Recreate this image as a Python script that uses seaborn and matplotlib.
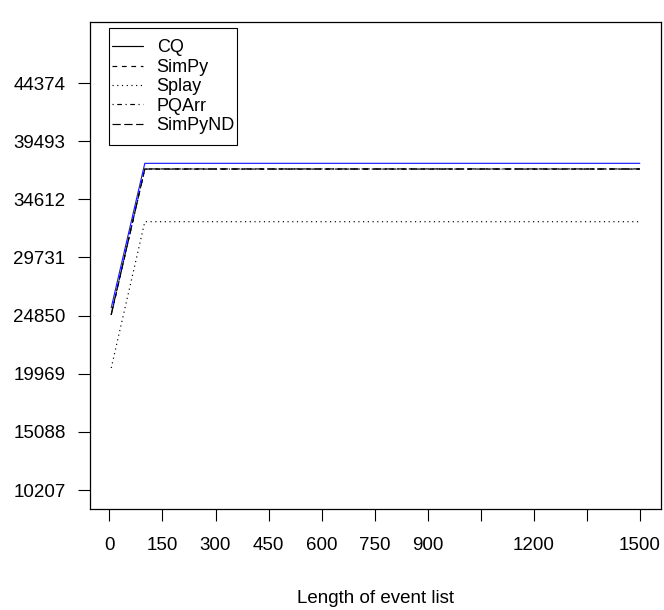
import numpy as np
import pandas as pd
import seaborn as sns
import matplotlib
matplotlib.use("Agg")
import matplotlib.pyplot as plt
from matplotlib.lines import Line2D
from matplotlib.patches import Rectangle

sns.set_theme(style="white")
plt.rcParams['font.family'] = ['Liberation Sans', 'DejaVu Sans']

# ---- data ----
lengths = [5, 100, 500, 1000, 1500]
cq      = [25500, 37630, 37630, 37630, 37630]
simpy   = [24900, 37150, 37150, 37150, 37150]
splay   = [20450, 32730, 32730, 32730, 32730]
pqarr   = [24900, 37150, 37150, 37150, 37150]
simpynd = [24950, 37160, 37160, 37160, 37160]

series_names = ["CQ", "SimPy", "Splay", "PQArr", "SimPyND"]
series_vals = [cq, simpy, splay, pqarr, simpynd]

y_ticks = [10207, 15088, 19969, 24850, 29731, 34612, 39493, 44374]
x_ticks = [0, 150, 300, 450, 600, 750, 900, 1050, 1200, 1350, 1500]
x_ticklabels = ["0", "150", "300", "450", "600", "750", "900", "", "1200", "", "1500"]

df = pd.DataFrame({
    "length": np.tile(lengths, len(series_names)),
    "value": np.concatenate(series_vals),
    "series": np.repeat(series_names, len(lengths)),
})

styles = {
    "CQ": "-",
    "SimPy": (0, (4, 4)),
    "Splay": (0, (1, 3)),
    "PQArr": (0, (1, 3, 4, 3)),
    "SimPyND": (0, (7, 3)),
}
colors = {"CQ": "#1a1aff", "SimPy": "black", "Splay": "black",
          "PQArr": "black", "SimPyND": "black"}

W, H = 664, 610
fig = plt.figure(figsize=(W / 100, H / 100), dpi=100)
left, right, top, bottom = 90, 661, 22, 509
ax = fig.add_axes([left / W, 1 - bottom / H, (right - left) / W, (bottom - top) / H])

draw_order = ["SimPy", "Splay", "PQArr", "SimPyND", "CQ"]
for name in draw_order:
    sub = df[df["series"] == name]
    sns.lineplot(data=sub, x="length", y="value", ax=ax, color=colors[name],
                 linestyle=styles[name], linewidth=0.85, legend=False)

ax.set_xlim(-55, 1560)
ax.set_ylim(8612, 49495)
ax.set_xticks(x_ticks)
ax.set_xticklabels(x_ticklabels)
ax.set_yticks(y_ticks)
ax.set_yticklabels([str(v) for v in y_ticks])
ax.tick_params(axis="both", direction="out", length=8.3, width=0.8, color="black",
               labelsize=13.5, labelcolor="black")
ax.tick_params(axis="x", pad=12, bottom=True)
ax.tick_params(axis="y", pad=9.3, left=True)
for s in ax.spines.values():
    s.set_visible(True)
    s.set_color("black")
    s.set_linewidth(0.9)
ax.grid(False)
ax.set_xlabel("Length of event list", fontsize=13.5, labelpad=25.5, color="black")
ax.set_ylabel("")

handles = [Line2D([0], [0], color="black", linestyle=styles[n], linewidth=0.85)
           for n in series_names]
leg = ax.legend(handles, series_names, loc="upper left",
                bbox_to_anchor=(111.7 / W, 1 - 39.5 / H), bbox_transform=fig.transFigure,
                fontsize=13, frameon=False, handlelength=1.75,
                handletextpad=0.74, labelspacing=0.13, borderpad=0, borderaxespad=0)
for t in leg.get_texts():
    t.set_color("black")

box = Rectangle((109.3 / W, 1 - 145 / H), (236.7 - 109.3) / W, (145 - 28) / H,
                transform=fig.transFigure, fill=False, edgecolor="black",
                linewidth=0.8, zorder=5)
fig.patches.append(box)

fig.savefig("out.png", dpi=100, facecolor="white")
